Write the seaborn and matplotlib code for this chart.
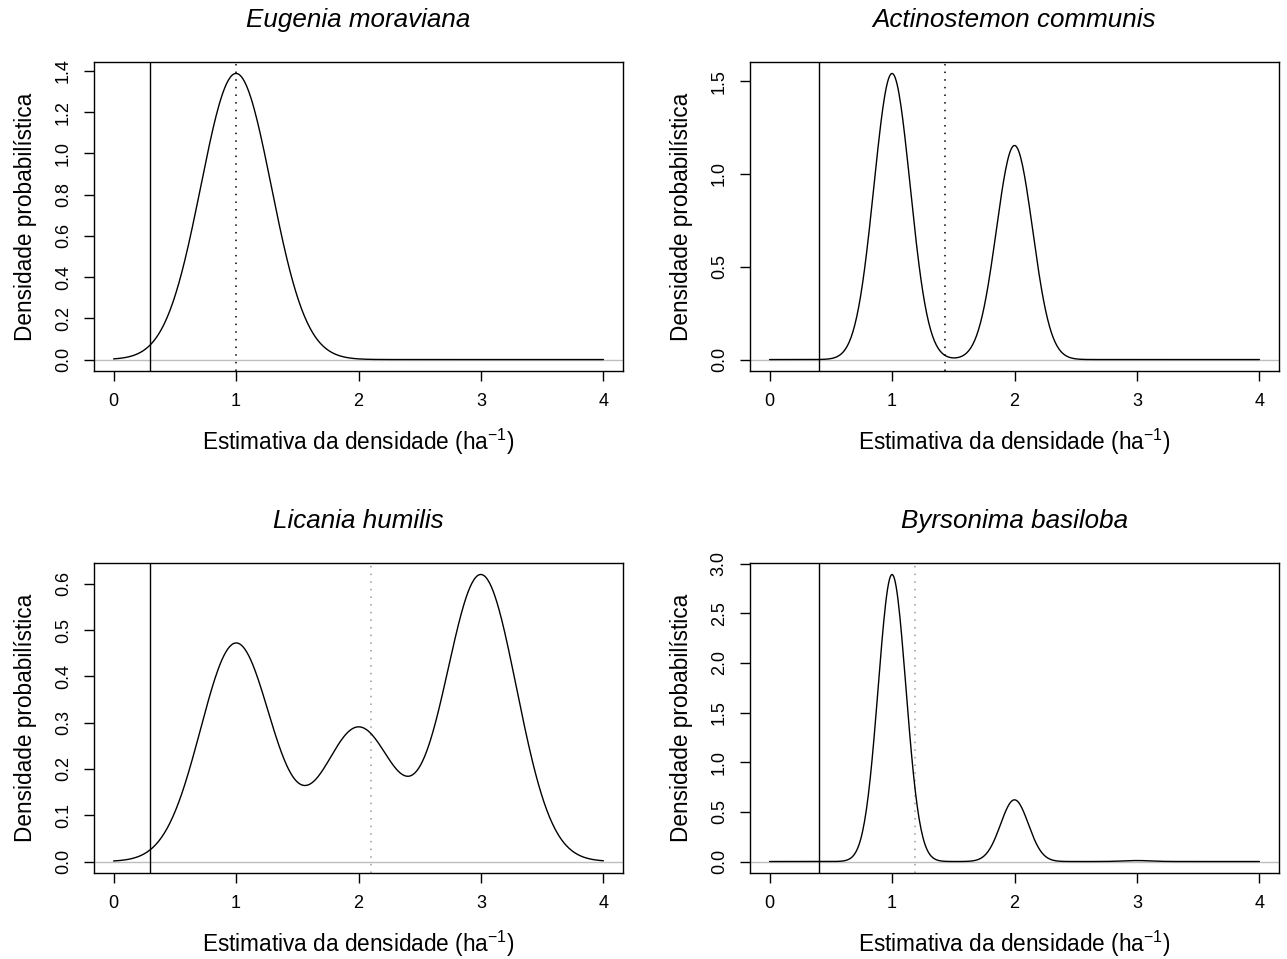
import numpy as np
import pandas as pd
import matplotlib
matplotlib.use("Agg")
import matplotlib.pyplot as plt
import seaborn as sns

# ---------------- data ----------------
species = ["Eugenia moraviana", "Actinostemon communis",
           "Licania humilis", "Byrsonima basiloba"]

# kernel density: support points (individuals per ha), weights, bandwidth
eugenia_points = [1.0]
eugenia_weights = [1.0]
eugenia_bw = 0.2875

actinostemon_points = [1.0, 2.0]
actinostemon_weights = [0.572, 0.428]
actinostemon_bw = 0.148

licania_points = [1.0, 2.0, 3.0]
licania_weights = [0.3426, 0.2094, 0.4501]
licania_bw = 0.29

byrsonima_points = [1.0, 2.0, 3.0]
byrsonima_weights = [0.8208, 0.1764, 0.0028]
byrsonima_bw = 0.1133

solid_vlines = [0.3, 0.4, 0.3, 0.4]
dotted_vlines = [1.0, 1.433, 2.105, 1.184]

y_ticks = [
    [0.0, 0.2, 0.4, 0.6, 0.8, 1.0, 1.2, 1.4],
    [0.0, 0.5, 1.0, 1.5],
    [0.0, 0.1, 0.2, 0.3, 0.4, 0.5, 0.6],
    [0.0, 0.5, 1.0, 1.5, 2.0, 2.5, 3.0],
]
x_ticks = [0, 1, 2, 3, 4]
x_from, x_to = 0.0, 4.0

xlabel = r"Estimativa da densidade (ha$^{-1}$)"
ylabel = "Densidade probabilística"

# ---------------- style ----------------
sns.set_theme(style="white")
plt.rcParams["font.family"] = ["Liberation Sans", "DejaVu Sans"]
plt.rcParams["mathtext.fontset"] = "custom"
plt.rcParams["mathtext.rm"] = "Liberation Sans"
plt.rcParams["mathtext.it"] = "Liberation Sans:italic"
plt.rcParams["mathtext.default"] = "regular"

dotted_colors = ["black", "black", "#9a9a9a", "#9a9a9a"]

panels = [
    (eugenia_points, eugenia_weights, eugenia_bw),
    (actinostemon_points, actinostemon_weights, actinostemon_bw),
    (licania_points, licania_weights, licania_bw),
    (byrsonima_points, byrsonima_weights, byrsonima_bw),
]

W, H = 1287, 959
fig = plt.figure(figsize=(W / 100, H / 100), dpi=100)

# axes boxes in pixels: (left, top, right, bottom)
boxes = [(94, 62, 623, 371), (750, 62, 1279, 371),
         (94, 563, 623, 873), (750, 563, 1279, 873)]

grid = np.linspace(x_from, x_to, 512)

for i, ((pts, wts, bw), box) in enumerate(zip(panels, boxes)):
    l, t, r, b = box
    ax = fig.add_axes([l / W, 1 - b / H, (r - l) / W, (b - t) / H])
    pts = np.asarray(pts)
    wts = np.asarray(wts)
    dens = (wts[None, :] * np.exp(-0.5 * ((grid[:, None] - pts[None, :]) / bw) ** 2)
            / (bw * np.sqrt(2 * np.pi))).sum(axis=1)
    df = pd.DataFrame({"x": grid, "y": dens})

    ax.axhline(0, color="#bebebe", lw=1.0, zorder=1)
    sns.lineplot(data=df, x="x", y="y", ax=ax, color="black", lw=1.0, zorder=3)
    ax.axvline(solid_vlines[i], color="black", lw=1.0, zorder=2)
    ax.axvline(dotted_vlines[i], color=dotted_colors[i], lw=1.1,
               dashes=(1, 4), zorder=2)

    ymax = dens.max()
    ax.set_xlim(x_from - 0.04 * (x_to - x_from), x_to + 0.04 * (x_to - x_from))
    ax.set_ylim(-0.04 * ymax, 1.04 * ymax)
    ax.set_xticks(x_ticks)
    ax.set_xticklabels([str(v) for v in x_ticks])
    ax.set_yticks(y_ticks[i])
    ax.set_yticklabels([f"{v:.1f}" for v in y_ticks[i]], rotation=90, va="center")

    for s in ax.spines.values():
        s.set_visible(True)
        s.set_color("black")
        s.set_linewidth(1.0)
    ax.tick_params(axis="both", direction="out", length=7, width=1.0,
                   color="black", labelsize=13, labelcolor="black",
                   bottom=True, left=True)
    ax.tick_params(axis="x", pad=9)
    ax.tick_params(axis="y", pad=9)

    ax.set_xlabel(xlabel, fontsize=16.3, labelpad=12, color="black")
    ax.set_ylabel(ylabel, fontsize=16.3, labelpad=13, color="black")
    ax.set_title(species[i], fontsize=18.7, style="italic", pad=25, color="black")
    ax.grid(False)

fig.savefig("out.png", dpi=100, facecolor="white")
